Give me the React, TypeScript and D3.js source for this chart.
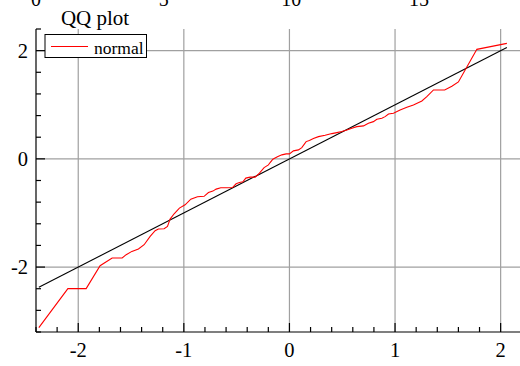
import React from "react";
import * as d3 from "d3";

const qx = [-2.373, -2.098, -1.925, -1.793, -1.679, -1.584, -1.546, -1.492, -1.43, -1.376, -1.319, -1.272, -1.241, -1.187, -1.155, -1.13, -1.092, -1.042, -0.988, -0.934, -0.871, -0.808, -0.767, -0.725, -0.694, -0.65, -0.593, -0.54, -0.505, -0.473, -0.441, -0.413, -0.372, -0.325, -0.284, -0.24, -0.199, -0.183, -0.157, -0.114, -0.072, -0.031, 0.0, 0.038, 0.085, 0.117, 0.158, 0.189, 0.227, 0.275, 0.338, 0.402, 0.449, 0.496, 0.544, 0.591, 0.638, 0.701, 0.748, 0.795, 0.828, 0.875, 0.906, 0.938, 0.985, 1.048, 1.112, 1.174, 1.254, 1.301, 1.364, 1.47, 1.538, 1.6, 1.775, 2.059];
const qy = [-3.12, -2.399, -2.399, -1.974, -1.832, -1.832, -1.771, -1.71, -1.666, -1.587, -1.434, -1.328, -1.297, -1.292, -1.249, -1.113, -1.015, -0.91, -0.849, -0.744, -0.701, -0.692, -0.622, -0.596, -0.559, -0.535, -0.535, -0.53, -0.461, -0.437, -0.424, -0.356, -0.338, -0.338, -0.264, -0.161, -0.111, -0.068, -0.006, 0.037, 0.074, 0.092, 0.092, 0.148, 0.166, 0.208, 0.319, 0.338, 0.375, 0.411, 0.437, 0.467, 0.485, 0.504, 0.535, 0.566, 0.596, 0.609, 0.659, 0.688, 0.732, 0.751, 0.78, 0.83, 0.843, 0.904, 0.954, 0.996, 1.07, 1.149, 1.273, 1.273, 1.341, 1.421, 2.024, 2.135];

const xMajorTicks = [-2, -1, 0, 1, 2];
const yMajorTicks = [-2, 0, 2];
const topTickLabels = [0, 5, 10, 15];
const titleText = "QQ plot";
const legendLabel = "normal";

const W = 520;
const H = 366;
const left = 36;
const top = 29;
const bottom = 332;
const FONT = "'Liberation Serif', 'Times New Roman', serif";
const txt = { fontFamily: FONT };

export default function App() {
  const x = d3.scaleLinear().domain([-2.4, 2.4]).range([left, left + 4.8 * 105.6]);
  const y = d3.scaleLinear().domain([-3.2, 2.4]).range([bottom, top]);
  const xTop = d3.scaleLinear().domain([0, 15]).range([36, 419]);

  const xMinor = d3.range(-24, 25, 2).map((v) => v / 10).filter((v) => x(v) <= W);
  const yMinor = d3.range(-32, 25, 4).map((v) => v / 10);

  const pts: [number, number][] = qx.map((v, i) => [v, qy[i]]);
  const line = d3.line<[number, number]>().x((d) => x(d[0])).y((d) => y(d[1]));
  const xExt = d3.extent(qx) as [number, number];
  const refPts: [number, number][] = [
    [xExt[0], xExt[0]],
    [xExt[1], xExt[1]],
  ];

  const isMajorX = (v: number) => Math.abs(v - Math.round(v)) < 1e-6;
  const isMajorY = (v: number) => Math.abs(v / 2 - Math.round(v / 2)) < 1e-6;

  return (
    <svg
      width={W}
      height={H}
      style={{ position: "absolute", left: 0, top: 0, display: "block", background: "#fff" }}
    >
      <rect x={0} y={0} width={W} height={H} fill="#fff" />
      {topTickLabels.map((t) => (
        <text key={"tt" + t} x={xTop(t)} y={5.5} fontSize={20} textAnchor="middle" fill="#000" style={txt}>
          {t}
        </text>
      ))}
      {xMajorTicks.map((t) => (
        <line key={"gx" + t} x1={x(t)} x2={x(t)} y1={top} y2={bottom} stroke="#a0a0a0" strokeWidth={1.2} />
      ))}
      {yMajorTicks.map((t) => (
        <line key={"gy" + t} x1={left} x2={W} y1={y(t)} y2={y(t)} stroke="#a0a0a0" strokeWidth={1.2} />
      ))}
      <path d={line(refPts) || ""} fill="none" stroke="#000" strokeWidth={1.1} />
      <path d={line(pts) || ""} fill="none" stroke="#ff0000" strokeWidth={1.1} />
      <line x1={left} x2={left} y1={top} y2={bottom} stroke="#000" strokeWidth={1.2} />
      <line x1={left} x2={W} y1={bottom} y2={bottom} stroke="#000" strokeWidth={1.2} />
      {xMinor.map((t) => (
        <line
          key={"tx" + t}
          x1={x(t)}
          x2={x(t)}
          y1={bottom}
          y2={bottom - (isMajorX(t) ? 9 : 5)}
          stroke="#000"
          strokeWidth={1.2}
        />
      ))}
      {yMinor.map((t) => (
        <line
          key={"ty" + t}
          x1={left}
          x2={left + (isMajorY(t) ? 9 : 5)}
          y1={y(t)}
          y2={y(t)}
          stroke="#000"
          strokeWidth={1.2}
        />
      ))}
      {xMajorTicks.map((t) => (
        <text key={"lx" + t} x={x(t)} y={357} fontSize={20.5} textAnchor="middle" fill="#000" style={txt}>
          {t < 0 ? "-" + Math.abs(t) : String(t)}
        </text>
      ))}
      {yMajorTicks.map((t) => (
        <text key={"ly" + t} x={28} y={y(t) + 7} fontSize={20.5} textAnchor="end" fill="#000" style={txt}>
          {t < 0 ? "-" + Math.abs(t) : String(t)}
        </text>
      ))}
      <text x={95} y={25} fontSize={21} textAnchor="middle" fill="#000" style={txt}>
        {titleText}
      </text>
      <rect x={45} y={34.5} width={101.5} height={23} fill="#fff" stroke="#000" strokeWidth={1} />
      <line x1={51} x2={88} y1={46.5} y2={46.5} stroke="#ff0000" strokeWidth={1.1} />
      <text x={94} y={53.5} fontSize={17.5} fill="#000" style={txt}>
        {legendLabel}
      </text>
    </svg>
  );
}
